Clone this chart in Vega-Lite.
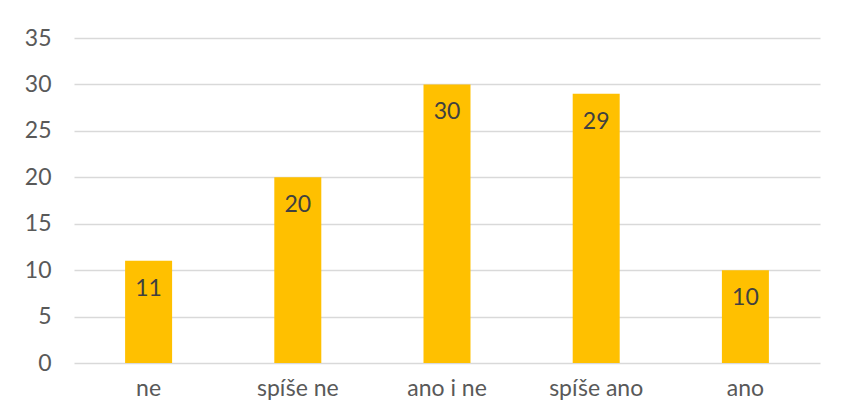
{
  "$schema": "https://vega.github.io/schema/vega-lite/v6.json",
  "width": 746,
  "height": 325,
  "autosize": {"type": "none"},
  "padding": {"left": 74, "top": 38, "right": 22, "bottom": 56},
  "background": "white",
  "config": {
    "view": {"stroke": null},
    "font": "Lato",
    "axis": {"labelFont": "Lato", "labelColor": "#595959", "labelFontSize": 23, "ticks": false, "domain": false, "title": null}
  },
  "data": {
    "values": [
      {"kategorie": "ne", "pocet": 11},
      {"kategorie": "spíše ne", "pocet": 20},
      {"kategorie": "ano i ne", "pocet": 30},
      {"kategorie": "spíše ano", "pocet": 29},
      {"kategorie": "ano", "pocet": 10}
    ]
  },
  "encoding": {
    "x": {
      "field": "kategorie",
      "type": "nominal",
      "sort": null,
      "scale": {"paddingInner": 0.685, "paddingOuter": 0.3425},
      "axis": {"labelAngle": 0, "labelPadding": 14, "grid": false}
    },
    "y": {
      "field": "pocet",
      "type": "quantitative",
      "scale": {"domain": [0, 35], "nice": false},
      "axis": {"values": [0, 5, 10, 15, 20, 25, 30, 35], "labelPadding": 23, "grid": true, "gridColor": "#D9D9D9", "gridWidth": 1.3}
    }
  },
  "layer": [
    {"mark": {"type": "bar", "color": "#FFC000"}},
    {
      "mark": {"type": "text", "baseline": "middle", "dy": 28, "fontSize": 23, "color": "#404040", "font": "Lato"},
      "encoding": {"text": {"field": "pocet", "type": "quantitative"}}
    }
  ]
}
